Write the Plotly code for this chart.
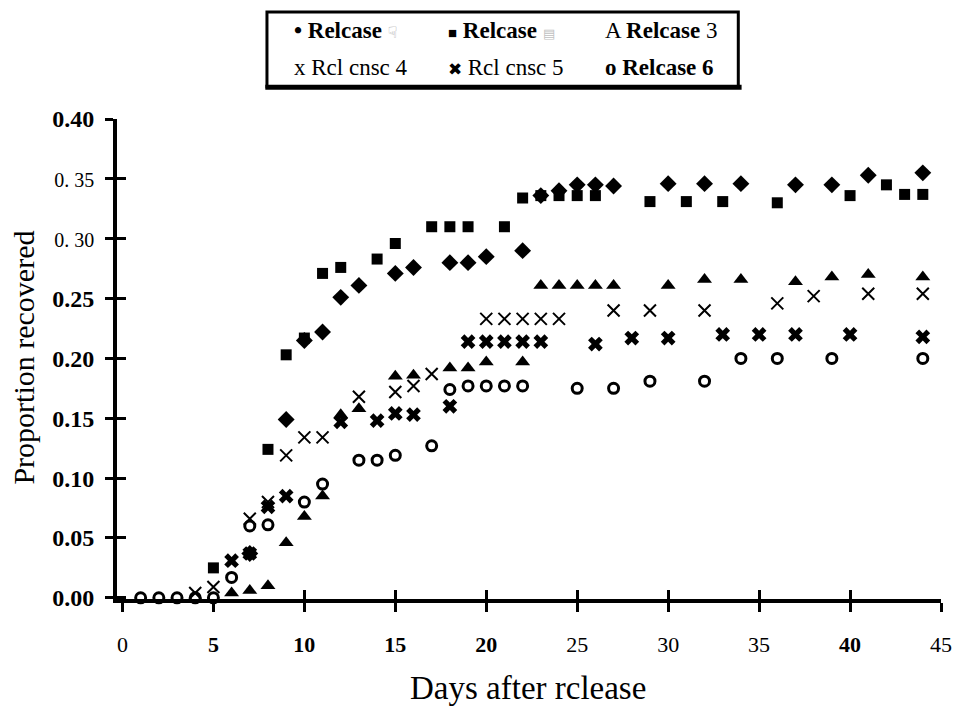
import plotly.graph_objects as go

# Cumulative proportion of tagged fish recovered, by days after release
r1_days = [7, 9, 10, 11, 12, 13, 15, 16, 18, 19, 20, 22, 23, 24, 25, 26, 27, 30, 32, 34, 37, 39, 41, 44]
r1_vals = [0.037, 0.149, 0.215, 0.222, 0.251, 0.261, 0.271, 0.276, 0.28, 0.28, 0.285, 0.29,
           0.336, 0.34, 0.345, 0.345, 0.344, 0.346, 0.346, 0.346, 0.345, 0.345, 0.353, 0.355]

r2_days = [5, 8, 9, 10, 11, 12, 14, 15, 17, 18, 19, 21, 22, 23, 24, 25, 26, 29, 31, 33, 36, 40, 42, 43, 44]
r2_vals = [0.025, 0.124, 0.203, 0.217, 0.271, 0.276, 0.283, 0.296, 0.31, 0.31, 0.31, 0.31, 0.334,
           0.336, 0.336, 0.336, 0.336, 0.331, 0.331, 0.331, 0.33, 0.336, 0.345, 0.337, 0.337]

r3_days = [6, 7, 8, 9, 10, 11, 12, 13, 15, 16, 18, 19, 20, 22, 23, 24, 25, 26, 27, 30, 32, 34, 37, 39, 41, 44]
r3_vals = [0.004, 0.006, 0.01, 0.046, 0.068, 0.085, 0.153, 0.158, 0.185, 0.186, 0.192, 0.192, 0.197,
           0.197, 0.261, 0.261, 0.261, 0.261, 0.261, 0.261, 0.266, 0.266, 0.264, 0.268, 0.27, 0.268]

r4_days = [4, 5, 7, 8, 9, 10, 11, 13, 15, 16, 17, 20, 21, 22, 23, 24, 27, 29, 32, 36, 38, 41, 44]
r4_vals = [0.004, 0.009, 0.066, 0.08, 0.119, 0.134, 0.134, 0.168, 0.172, 0.177, 0.187, 0.233, 0.233,
           0.233, 0.233, 0.233, 0.24, 0.24, 0.24, 0.246, 0.252, 0.254, 0.254]

r5_days = [6, 7, 8, 9, 12, 14, 15, 16, 18, 19, 20, 21, 22, 23, 26, 28, 30, 33, 35, 37, 40, 44]
r5_vals = [0.031, 0.037, 0.076, 0.085, 0.147, 0.148, 0.154, 0.153, 0.16, 0.214, 0.214, 0.214, 0.214,
           0.214, 0.212, 0.217, 0.217, 0.22, 0.22, 0.22, 0.22, 0.218]

r6_days = [1, 2, 3, 4, 5, 6, 7, 8, 10, 11, 13, 14, 15, 17, 18, 19, 20, 21, 22, 25, 27, 29, 32, 34, 36, 39, 44]
r6_vals = [0, 0, 0, 0, 0, 0.017, 0.06, 0.061, 0.08, 0.095, 0.115, 0.115, 0.119, 0.127, 0.174, 0.177,
           0.177, 0.177, 0.177, 0.175, 0.175, 0.181, 0.181, 0.2, 0.2, 0.2, 0.2]

x_ticks = [0, 5, 10, 15, 20, 25, 30, 35, 40, 45]
x_labels = ["0", "<b>5</b>", "<b>10</b>", "<b>15</b>", "<b>20</b>",
            "25", "30", "35", "<b>40</b>", "45"]
y_ticks = [0.0, 0.05, 0.10, 0.15, 0.20, 0.25, 0.30, 0.35, 0.40]
y_labels = ["<b>0.00</b>", "<b>0.05</b>", "<b>0.10</b>", "<b>0.15</b>", "<b>0.20</b>", "<b>0.25</b>",
            '<span style="font-size:20px">0. 30</span>', '<span style="font-size:20px">0. 35</span>',
            "<b>0.40</b>"]

legend_labels = [
    '<b>• Relcase</b> <span style="font-family:DejaVu Sans;color:#a8a8a8;font-size:16px">☟\ufe0e</span>',
    '<b><span style="font-size:15px">■</span> Relcase</b> <span style="color:#c0c0c0;font-size:13px">▤</span>',
    "A <b>Relcase</b> 3",
    "x Rcl cnsc 4",
    '<span style="font-size:17px">✖</span> Rcl cnsc 5',
    "<b>o Relcase 6</b>",
]

X_RANGE = [-0.3, 45.0]
Y_RANGE = [-0.001, 0.40]
SERIF = "Liberation Serif"

styles = [
    (r1_days, r1_vals, dict(symbol="diamond", size=13, color="black")),
    (r2_days, r2_vals, dict(symbol="square", size=11, color="black")),
    (r3_days, r3_vals, dict(symbol="triangle-up", size=13, color="black")),
    (r4_days, r4_vals, dict(symbol="x-thin-open", size=12, color="black", line=dict(width=2, color="black"))),
    (r5_days, r5_vals, dict(symbol="x", size=13, color="black", line=dict(width=0))),
    (r6_days, r6_vals, dict(symbol="circle-open", size=10, color="black", line=dict(width=3, color="black"))),
]

fig = go.Figure()
for days, vals, marker in styles:
    fig.add_trace(go.Scatter(x=days, y=vals, mode="markers", marker=marker,
                             showlegend=False, cliponaxis=False, hoverinfo="skip"))

# empty trace so the overlaid tick axes (inner half of the crossing ticks) are drawn
fig.add_trace(go.Scatter(x=[None], y=[None], xaxis="x2", yaxis="y2",
                         showlegend=False, hoverinfo="skip"))

axis_common = dict(showgrid=False, zeroline=False, color="black")

fig.update_layout(
    width=964, height=706,
    margin=dict(l=117, r=18, t=119, b=107),
    paper_bgcolor="white", plot_bgcolor="white",
    font=dict(family=SERIF, color="black"),
    xaxis=dict(range=X_RANGE, tickvals=x_ticks, ticktext=x_labels,
               showline=True, linewidth=4, linecolor="black",
               ticks="outside", ticklen=9, tickwidth=3, tickcolor="black",
               ticklabelstandoff=14,
               tickfont=dict(family=SERIF, size=22, color="black"), **axis_common),
    yaxis=dict(range=Y_RANGE, tickvals=y_ticks, ticktext=y_labels,
               showline=True, linewidth=4, linecolor="black",
               ticks="outside", ticklen=8, tickwidth=3, tickcolor="black",
               ticklabelstandoff=6,
               tickfont=dict(family=SERIF, size=24, color="black"), **axis_common),
    xaxis2=dict(range=X_RANGE, overlaying="x", anchor="y2", side="bottom",
                tickvals=x_ticks[2:], ticks="inside", ticklen=9, tickwidth=3, tickcolor="black",
                showticklabels=False, showline=False, **axis_common),
    yaxis2=dict(range=Y_RANGE, overlaying="y", anchor="x2", side="left",
                tickvals=y_ticks, ticks="inside", ticklen=9, tickwidth=3, tickcolor="black",
                showticklabels=False, showline=False, **axis_common),
)

# legend box
fig.add_shape(type="rect", xref="paper", yref="paper",
              x0=0.182, x1=0.754, y0=1.067, y1=1.223,
              line=dict(color="black", width=3), fillcolor="white", layer="below")
fig.add_shape(type="line", xref="paper", yref="paper",
              x0=0.180, x1=0.758, y0=1.066, y1=1.066,
              line=dict(color="black", width=5))

legend_x = [0.2123, 0.3993, 0.5899]
legend_y = [1.1854, 1.1063]
for i, label in enumerate(legend_labels):
    fig.add_annotation(text=label, xref="paper", yref="paper",
                       x=legend_x[i % 3], y=legend_y[i // 3],
                       xanchor="left", yanchor="middle", showarrow=False,
                       font=dict(family=SERIF, size=23, color="black"))

# axis titles
fig.add_annotation(text="Proportion recovered", xref="paper", yref="paper",
                   x=-0.1146, y=0.502, textangle=-90, showarrow=False,
                   xanchor="center", yanchor="middle",
                   font=dict(family=SERIF, size=30, color="black"))
fig.add_annotation(text="Days after rclease", xref="paper", yref="paper",
                   x=0.499, y=-0.186, showarrow=False,
                   xanchor="center", yanchor="middle",
                   font=dict(family=SERIF, size=33, color="black"))

fig.write_html("out.html")
